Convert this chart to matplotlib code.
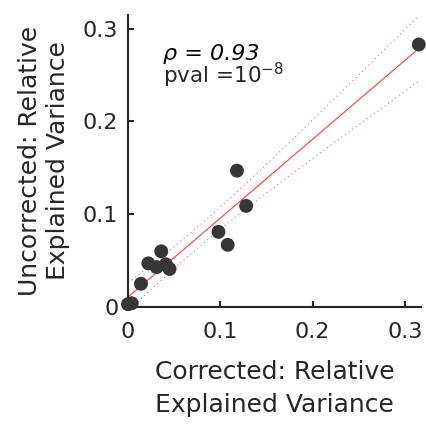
import numpy as np
import matplotlib
matplotlib.use("Agg")
import matplotlib.pyplot as plt

plt.rcParams["font.family"] = ["DejaVu Sans"]
plt.rcParams["mathtext.fontset"] = "dejavusans"

# values
corrected = [0.315, 0.118, 0.128, 0.098, 0.108, 0.036, 0.022, 0.031, 0.041, 0.045, 0.014, 0.0, 0.004]
uncorrected = [0.283, 0.147, 0.109, 0.081, 0.067, 0.060, 0.047, 0.043, 0.046, 0.041, 0.025, 0.003, 0.004]
ticks = [0, 0.1, 0.2, 0.3]
tick_labels = ["0", "0.1", "0.2", "0.3"]

x = np.array(corrected)
y = np.array(uncorrected)

# linear fit with 95% confidence band of the fit
slope, intercept = np.polyfit(x, y, 1)
n = len(x)
resid = y - (slope * x + intercept)
se = np.sqrt(np.sum(resid ** 2) / (n - 2))
sxx = np.sum((x - x.mean()) ** 2)
t_crit = 2.201  # t(0.975, df=11)
xf = np.linspace(x.min(), x.max(), 100)
yf = slope * xf + intercept
half = t_crit * se * np.sqrt(1 / n + (xf - x.mean()) ** 2 / sxx)

dark = "#262626"
red = "#ff3b3b"

fig = plt.figure(figsize=(4.26, 4.24), dpi=100)
ax = fig.add_axes([0.3005, 0.276, 0.688, 0.689])

ax.plot(xf, yf, color=red, lw=0.8, zorder=2)
ax.plot(xf, yf + half, color=red, lw=0.8, ls=(0, (1, 3)), alpha=0.8, zorder=2)
ax.plot(xf, yf - half, color=red, lw=0.8, ls=(0, (1, 3)), alpha=0.8, zorder=2)
ax.scatter(x, y, s=100, color="#363636", edgecolors="none", zorder=3, clip_on=False)

ax.set_xlim(0, 0.3175)
ax.set_ylim(0, 0.315)
ax.set_xticks(ticks)
ax.set_xticklabels(tick_labels)
ax.set_yticks(ticks)
ax.set_yticklabels(tick_labels)

for side in ["top", "right"]:
    ax.spines[side].set_visible(False)
for side in ["left", "bottom"]:
    ax.spines[side].set_color(dark)
    ax.spines[side].set_linewidth(1.5)

ax.tick_params(direction="in", length=4, width=1.5, color=dark,
               labelsize=16, labelcolor=dark)
ax.tick_params(axis="y", pad=7)
ax.tick_params(axis="x", pad=11)

ax.set_xlabel("Corrected: Relative\nExplained Variance", fontsize=18, color=dark,
              labelpad=13, linespacing=1.45)
ax.set_ylabel("Uncorrected: Relative\nExplained Variance", fontsize=18, color=dark,
              labelpad=9, linespacing=1.22)

ax.text(0.038, 0.2665, "ρ = 0.93", fontsize=16, style="italic", color="black",
        va="baseline")
ax.text(0.038, 0.2415, r"pval =10$^{\mathregular{-8}}$", fontsize=15.5, color=dark,
        va="baseline")

fig.savefig("out.png", dpi=100)
